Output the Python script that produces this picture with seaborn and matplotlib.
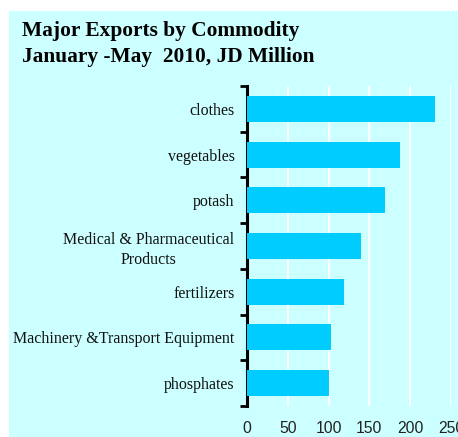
import matplotlib
matplotlib.use("Agg")
import matplotlib.pyplot as plt
from matplotlib.patches import Rectangle
import seaborn as sns
import pandas as pd

# Major exports, January-May 2010 (JD million)
commodities = [
    "clothes",
    "vegetables",
    "potash",
    "Medical & Pharmaceutical\nProducts",
    "fertilizers",
    "Machinery &Transport Equipment",
    "phosphates",
]
values = [231, 188, 169, 140, 119, 103, 101]
x_ticks = [0, 50, 100, 150, 200, 250]
title_lines = ["Major Exports by Commodity", "January -May  2010, JD Million"]

df = pd.DataFrame({"commodity": commodities, "value": values})

W, H = 458, 437
fig = plt.figure(figsize=(W / 100, H / 100), dpi=100)

# light cyan panel behind everything
fig.patches.append(Rectangle((9 / W, 0), 1 - 9 / W, 1 - 11 / H,
                             transform=fig.transFigure, facecolor="#CCFFFF",
                             edgecolor="none", zorder=-5))

left, right = 247 / W, 451 / W
top, bottom = 1 - 86 / H, 1 - 406 / H
ax = fig.add_axes([left, bottom, right - left, top - bottom])
ax.set_facecolor("none")
ax.set_zorder(2)

sns.barplot(data=df, x="value", y="commodity", orient="h", color="#00CCFF",
            saturation=1, width=0.57, ax=ax, zorder=3)

ax.set_xlim(0, 250)
ax.set_ylim(6.5, -0.5)
ax.set_xticks(x_ticks)
ax.set_xticklabels([str(t) for t in x_ticks], fontfamily="Liberation Sans",
                   fontsize=11.3, color="#222222")
ax.tick_params(axis="x", length=0, pad=11)
ax.xaxis.grid(True, color="white", linewidth=1.4, zorder=1)
ax.set_axisbelow(True)

# category labels at bar centres, tick marks at category boundaries
ax.set_yticks(range(len(commodities)))
ax.set_yticklabels(commodities, fontfamily="Liberation Serif", fontsize=11.5,
                   color="#111111", linespacing=1.35)
for lbl in ax.get_yticklabels():
    lbl.set_multialignment("center")
ax.tick_params(axis="y", which="major", length=0, pad=9)
ax.set_yticks([i - 0.5 for i in range(len(commodities) + 1)], minor=True)
ax.tick_params(axis="y", which="minor", length=5, width=2, color="black",
               direction="out")

for side in ["top", "right", "bottom"]:
    ax.spines[side].set_visible(False)
ax.spines["left"].set_linewidth(2.2)
ax.spines["left"].set_color("black")
ax.set_xlabel("")
ax.set_ylabel("")

for i, line in enumerate(title_lines):
    fig.text(22 / W, 1 - (36 + 26 * i) / H, line, fontfamily="Liberation Serif",
             fontweight="bold", fontsize=15.4, color="black", va="baseline",
             ha="left")

fig.savefig("out.png", dpi=100)
